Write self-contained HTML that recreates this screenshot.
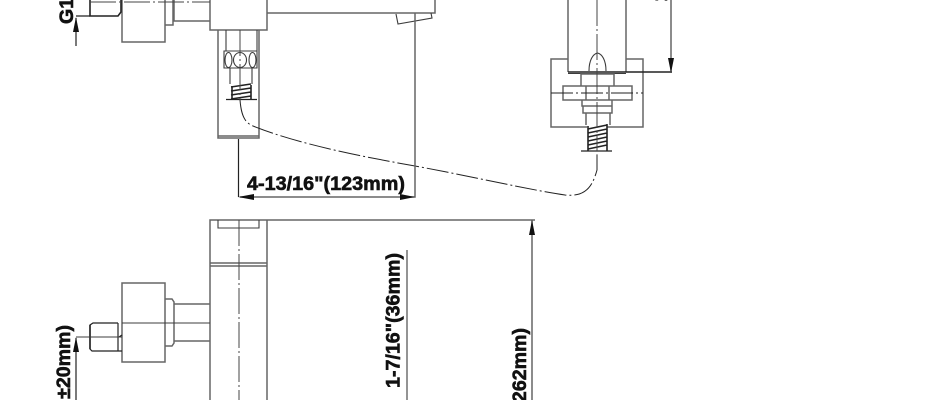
<!DOCTYPE html>
<html><head><meta charset="utf-8">
<style>
html,body{margin:0;padding:0;background:#fff;width:940px;height:400px;overflow:hidden}
svg{display:block;overflow:hidden}
.l{fill:none;stroke:#3c3c3c;stroke-width:1.1}
.t{fill:none;stroke:#222;stroke-width:1.2}
.h{fill:none;stroke:#222;stroke-width:1.6}
.g{fill:none;stroke:#666;stroke-width:1.5}
.c{fill:none;stroke:#444;stroke-width:1;stroke-dasharray:26 3 2 3}
.d{fill:none;stroke:#222;stroke-width:1;stroke-dasharray:22 3 2 3}
.a{fill:#111;stroke:none}
text{font-family:"Liberation Sans",sans-serif;font-weight:bold;font-size:19.6px;fill:#111;stroke:#111;stroke-width:.6}
</style></head><body>
<svg width="940" height="400" viewBox="0 0 940 400" xmlns="http://www.w3.org/2000/svg">
<!-- top view body -->
<path class="g" d="M210 0V30H267V0M267 13H435V0"/>
<path class="l" d="M396 14L398 24L432 18L431 13"/>
<path class="g" d="M122 0V42H165V0M165 25H173V0M174 0V21H210"/>
<path class="h" d="M90 0V16H118L121 12V0"/>
<path class="c" d="M90 2H210"/>
<!-- handle/hose assembly -->
<path class="g" d="M218 30V138H259V30M218 136H259"/>
<path class="l" d="M226 30V51M257 30V51M224 51H257V68H224ZM230 68V84M252 68V84"/>
<ellipse class="l" cx="240" cy="60" rx="6.500" ry="7.500"/>
<ellipse class="l" cx="228.500" cy="60" rx="3.500" ry="7.500"/>
<ellipse class="l" cx="252.500" cy="60" rx="3.500" ry="7.500"/>
<path class="h" d="M231 87L251 84M231 91L251 88M231 95L251 92M231 99L251 96M232 86V99M251 85V99"/>
<path class="t" d="M226 99.500H257"/>
<path class="c" d="M240 30V100"/>
<path class="t" d="M238.500 139V197"/>
<!-- hose -->
<path class="d" d="M240 100C241 112 243 122 253 126C300 145 370 158 415 166C470 176 530 190 565 195C585 197 592 188 597 170L597 151"/>
<!-- dimension -->
<path class="g" d="M415 13V197H240"/>
<path class="a" d="M238 197L254 194V200ZM415 197L400 194V200Z"/>
<text x="247" y="190" textLength="158" lengthAdjust="spacingAndGlyphs">4-13/16"(123mm)</text>
<!-- G1 -->
<path class="t" d="M76 46V18M76 16H90"/>
<path class="a" d="M76 17L73 32H79Z"/>
<text transform="translate(73 24) rotate(-90)">G1/2</text>
<!-- right part -->
<path class="g" d="M568 0V72M626 0V72"/>
<path class="g" d="M568 59H551V127H587M607 127H643V59H626"/>
<path class="t" d="M568 72H672" style="stroke-width:1.600"/>
<path class="l" d="M568 73.500H626M589 71C589 60 593 54 597.500 53C602 54 606 60 606 71"/>
<path class="g" d="M581 74H614V86H581ZM563 86H632V100H563ZM586 86V100M609 86V100M582 100V106H612V100M583 106V113H612V106M586 113V125M610 113V125"/>
<path class="h" d="M588 129L607 125M588 133L607 129M588 137L607 133M588 141L607 137M588 145L607 141M588 149L607 145M588 126V151M607 124V151"/>
<path class="t" d="M581 151H612"/>
<path class="c" d="M597 0V151"/>
<path class="d" d="M551 93H643"/>
<path class="g" d="M671 0V72"/>
<path class="a" d="M671 73L668 58H674Z"/>
<text transform="translate(667 1.500) rotate(-90)">1/8"(41mm)</text>
<!-- lower view -->
<path class="g" d="M210 400V220H267V400M210 263H267M210 266H267M267 220H535"/>
<path class="l" d="M218 220V228H259V220"/>
<path class="c" d="M239 220V400"/>
<rect class="g" x="122" y="283" width="43" height="79"/>
<path class="g" d="M165 299H172L174 302V343L172 346H165M174 304H210M174 341H210"/>
<path class="l" d="M122 323H210"/>
<path class="t" d="M118 323H93L90 325V349L92 351H118M118 323V351M118 351H122M119 337L122 335"/>
<path class="h" d="M90 325V349"/>
<path class="l" d="M76 337H122"/>
<path class="t" d="M76 400V338"/>
<path class="a" d="M76 337L73 352H79Z"/>
<text transform="translate(70 325) rotate(-90)" style="text-anchor:end">±20mm)</text>
<path class="l" d="M407 250V400"/>
<text transform="translate(399.500 388) rotate(-90)" textLength="135" lengthAdjust="spacingAndGlyphs">1-7/16"(36mm)</text>
<path class="g" d="M532 220V400"/>
<path class="a" d="M532 220L529 235H535Z"/>
<text transform="translate(526 328) rotate(-90)" style="text-anchor:end">262mm)</text>
</svg>
</body></html>
